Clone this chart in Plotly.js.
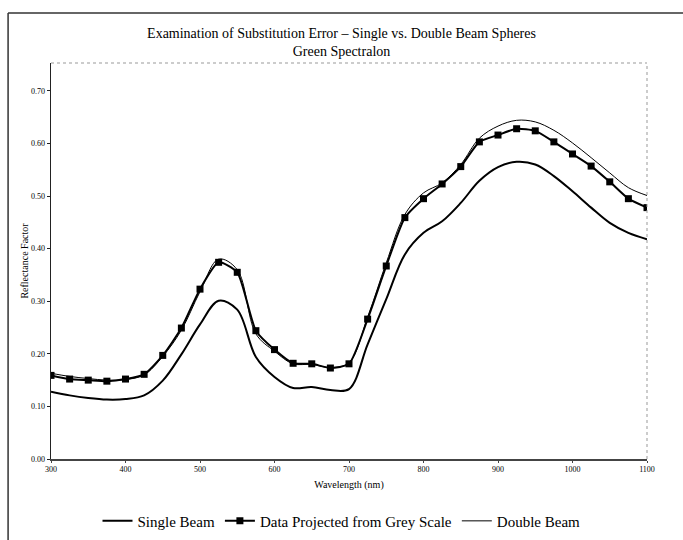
<!DOCTYPE html>
<html>
<head>
<meta charset="utf-8">
<script src="https://cdn.plot.ly/plotly-3.0.1.min.js"></script>
<style>html,body{margin:0;padding:0;background:#fff;}#chart{width:683px;height:540px;}</style>
</head>
<body>
<div id="chart"></div>
<script>
var wavelengths = [300,325,350,375,400,425,450,475,500,525,550,575,600,625,650,675,700,725,750,775,800,825,850,875,900,925,950,975,1000,1025,1050,1075,1100];
var singleBeam = [0.128,0.121,0.116,0.113,0.114,0.121,0.149,0.199,0.256,0.301,0.284,0.194,0.156,0.135,0.137,0.131,0.133,0.218,0.304,0.389,0.430,0.452,0.487,0.529,0.555,0.565,0.560,0.538,0.509,0.478,0.449,0.430,0.418];
var projected = [0.159,0.152,0.150,0.148,0.152,0.161,0.197,0.249,0.323,0.374,0.355,0.244,0.208,0.182,0.181,0.173,0.181,0.266,0.367,0.459,0.495,0.523,0.556,0.603,0.616,0.628,0.624,0.603,0.580,0.557,0.527,0.495,0.478];
var doubleBeam = [0.163,0.157,0.153,0.150,0.151,0.160,0.195,0.245,0.318,0.380,0.360,0.238,0.205,0.181,0.180,0.174,0.183,0.270,0.373,0.465,0.506,0.525,0.560,0.610,0.633,0.644,0.641,0.625,0.601,0.573,0.544,0.516,0.501];
var xTicks = [300,400,500,600,700,800,900,1000,1100];
var yTicks = [0,0.1,0.2,0.3,0.4,0.5,0.6,0.7];
var seriesNames = ['Single Beam','Data Projected from Grey Scale','Double Beam'];

var serif = 'Liberation Serif, Times New Roman, serif';
var traces = [
  {x: wavelengths, y: singleBeam, name: seriesNames[0], type: 'scatter', mode: 'lines',
   line: {color: '#000', width: 2, shape: 'spline', smoothing: 1}},
  {x: wavelengths, y: projected, name: seriesNames[1], type: 'scatter', mode: 'lines+markers',
   line: {color: '#000', width: 2, shape: 'spline', smoothing: 0.6},
   marker: {symbol: 'square', size: 7, color: '#000'}},
  {x: wavelengths, y: doubleBeam, name: seriesNames[2], type: 'scatter', mode: 'lines',
   line: {color: '#000', width: 1, shape: 'spline', smoothing: 1}}
];

var layout = {
  width: 683, height: 540,
  paper_bgcolor: '#fff', plot_bgcolor: '#fff',
  margin: {l: 51, r: 36, t: 63, b: 81},
  font: {family: serif, color: '#000'},
  title: {text: 'Examination of Substitution Error \u2013 Single vs. Double Beam Spheres<br>Green Spectralon',
          font: {family: serif, size: 14, color: '#000'}, x: 0.5, xref: 'container', xanchor: 'center',
          y: 0.93, yref: 'container', yanchor: 'middle'},
  xaxis: {range: [300, 1100], tickvals: xTicks, ticktext: xTicks.map(String), automargin: false,
          showgrid: false, zeroline: false, showline: true, linecolor: '#444', linewidth: 1.5,
          ticks: 'outside', ticklen: 2, tickcolor: '#444',
          tickfont: {family: serif, size: 8, color: '#000'},
          title: {text: 'Wavelength (nm)', font: {family: serif, size: 10, color: '#000'}, standoff: 8}},
  yaxis: {range: [0, 0.753], tickvals: yTicks, tickformat: '.2f', automargin: false,
          showgrid: false, zeroline: false, showline: true, linecolor: '#222', linewidth: 1.5,
          ticks: 'outside', ticklen: 3, tickcolor: '#222',
          tickfont: {family: serif, size: 8, color: '#000'},
          title: {text: 'Reflectance Factor', font: {family: serif, size: 10, color: '#000'}, standoff: 0}},
  showlegend: true,
  legend: {orientation: 'h', x: 0.5, xref: 'container', xanchor: 'center',
           y: 0.035, yref: 'container', yanchor: 'middle',
           itemwidth: 30, tracegroupgap: 0,
           font: {family: serif, size: 15, color: '#000'}, bgcolor: 'rgba(0,0,0,0)'},
  shapes: [
    {type: 'line', xref: 'paper', yref: 'paper', x0: 0, x1: 1, y0: 1, y1: 1,
     line: {color: '#999', width: 1, dash: 'dot'}},
    {type: 'line', xref: 'paper', yref: 'paper', x0: 1, x1: 1, y0: 0, y1: 1,
     line: {color: '#999', width: 1, dash: 'dot'}},
    {type: 'line', xref: 'paper', yref: 'paper', x0: -0.072, x1: 1.2, y0: 1.126, y1: 1.126,
     line: {color: '#333', width: 1.5}},
    {type: 'line', xref: 'paper', yref: 'paper', x0: -0.072, x1: -0.072, y0: 1.126, y1: -0.3,
     line: {color: '#333', width: 1.5}}
  ]
};

Plotly.newPlot('chart', traces, layout, {displayModeBar: false, staticPlot: true});
</script>
</body>
</html>
